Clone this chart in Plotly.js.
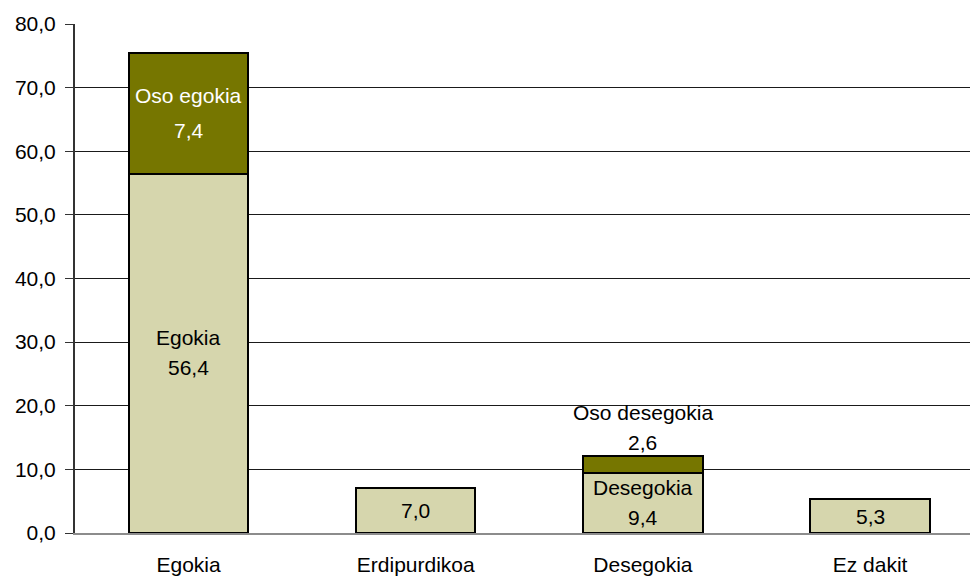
<!DOCTYPE html>
<html>
<head>
<meta charset="utf-8">
<script src="https://cdn.plot.ly/plotly-3.0.1.min.js"></script>
<style>html,body{margin:0;padding:0;overflow:hidden;background:#fff}</style>
</head>
<body>
<div id="chart" style="width:970px;height:579px"></div>
<script>
var categories = ['Egokia', 'Erdipurdikoa', 'Desegokia', 'Ez dakit'];
var baseValues = [56.4, 7.0, 9.4, 5.3];
var baseNames = ['Egokia', '', 'Desegokia', ''];
var baseLabels = ['56,4', '7,0', '9,4', '5,3'];
var topValues = [19.1, null, 2.7, null];
var topNames = ['Oso egokia', '', 'Oso desegokia', ''];
var topLabels = ['7,4', '', '2,6', ''];
var yTicks = [0, 10, 20, 30, 40, 50, 60, 70, 80];
var yTickText = ['0,0', '10,0', '20,0', '30,0', '40,0', '50,0', '60,0', '70,0', '80,0'];

(function () {
  var FONT = 'Arial, "Liberation Sans", sans-serif';
  var FS = 21;

  var traces = [
    {type: 'bar', x: categories, y: baseValues, width: 0.525,
     marker: {color: '#d6d6ad', line: {color: '#000', width: 2}}, hoverinfo: 'none'},
    {type: 'bar', x: categories, y: topValues, width: 0.525,
     marker: {color: '#767600', line: {color: '#000', width: 2}}, hoverinfo: 'none'}
  ];

  var ann = [];
  function addLabel(x, y, text, color, shift) {
    ann.push({x: x, y: y, xref: 'x', yref: 'y', text: text, showarrow: false,
      yanchor: 'middle', xanchor: 'center', yshift: shift,
      font: {family: FONT, size: FS, color: color}});
  }
  for (var i = 0; i < categories.length; i++) {
    var mid = baseValues[i] / 2;
    if (baseNames[i]) {
      addLabel(categories[i], mid, baseNames[i], '#000', 16);
      addLabel(categories[i], mid, baseLabels[i], '#000', -14);
    } else {
      addLabel(categories[i], mid, baseLabels[i], '#000', 0);
    }
    if (topValues[i] != null) {
      var stackTop = baseValues[i] + topValues[i];
      if (topValues[i] > 10) {
        var tm = baseValues[i] + topValues[i] / 2;
        addLabel(categories[i], tm, topNames[i], '#fff', 18);
        addLabel(categories[i], tm, topLabels[i], '#fff', -17);
      } else {
        addLabel(categories[i], stackTop, topLabels[i], '#000', 14);
        addLabel(categories[i], stackTop, topNames[i], '#000', 44);
      }
    }
  }

  var layout = {
    width: 970, height: 579,
    margin: {l: 75, r: 0, t: 24, b: 46},
    paper_bgcolor: '#fff', plot_bgcolor: '#fff',
    showlegend: false,
    barmode: 'stack',
    font: {family: FONT, size: FS, color: '#000'},
    xaxis: {type: 'category', range: [-0.5, 3.44], showgrid: false, zeroline: false,
      showline: true, linecolor: '#8c8c8c', linewidth: 2, ticks: '',
      tickangle: 0, automargin: false, ticklabelstandoff: 12,
      tickfont: {family: FONT, size: FS, color: '#000'}},
    yaxis: {range: [0, 80], tickmode: 'array', tickvals: yTicks, ticktext: yTickText,
      showgrid: true, gridcolor: '#1a1a1a', gridwidth: 1, zeroline: false,
      showline: true, linecolor: '#333', linewidth: 2,
      ticks: 'outside', ticklen: 8, tickcolor: '#333', tickwidth: 1,
      automargin: false, ticklabelstandoff: 5,
      tickfont: {family: FONT, size: FS, color: '#000'}},
    annotations: ann
  };

  Plotly.newPlot('chart', traces, layout, {staticPlot: true, displayModeBar: false});
})();
</script>
</body>
</html>
